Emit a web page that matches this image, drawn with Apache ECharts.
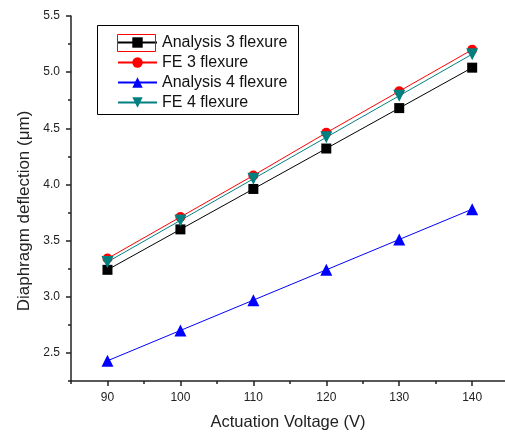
<!DOCTYPE html>
<html>
<head>
<meta charset="utf-8">
<script src="https://cdn.jsdelivr.net/npm/echarts@6/dist/echarts.min.js"></script>
<style>
html, body { margin: 0; padding: 0; background: #fff; }
#chart { width: 505px; height: 436px; }
</style>
</head>
<body>
<div id="chart"></div>
<script>
var voltage = [90, 100, 110, 120, 130, 140];
var analysis3 = [3.24, 3.60, 3.96, 4.32, 4.68, 5.04];
var fe3 = [3.34, 3.71, 4.08, 4.46, 4.83, 5.20];
var analysis4 = [2.43, 2.70, 2.97, 3.24, 3.51, 3.78];
var fe4 = [3.31, 3.68, 4.05, 4.42, 4.79, 5.16];

var xMajor = [90, 100, 110, 120, 130, 140];
var xMinor = [85, 95, 105, 115, 125, 135];
var yMajor = [2.5, 3.0, 3.5, 4.0, 4.5, 5.0, 5.5];
var yMinor = [2.25, 2.75, 3.25, 3.75, 4.25, 4.75, 5.25];

var font = 'Arial, "Liberation Sans", sans-serif';
var axisColor = '#222';

function pairs(ys) {
    return ys.map(function (y, i) { return [voltage[i], y]; });
}

var chart = echarts.init(document.getElementById('chart'));

chart.setOption({
    animation: false,
    grid: { left: 71, top: 16, bottom: 55, right: 0 },
    xAxis: [{
        type: 'value', min: 85, max: 144.5,
        name: 'Actuation Voltage (V)', nameLocation: 'middle', nameGap: 33,
        nameTextStyle: { fontFamily: font, fontSize: 16.5, color: axisColor },
        axisLine: { lineStyle: { color: axisColor, width: 1.5 } },
        axisTick: { customValues: xMajor, length: 5, lineStyle: { color: axisColor, width: 1.5 } },
        axisLabel: { customValues: xMajor, margin: 11, fontFamily: font, fontSize: 12, color: axisColor },
        splitLine: { show: false }
    }, {
        type: 'value', min: 85, max: 144.5, position: 'bottom',
        axisLine: { show: false },
        axisTick: { customValues: xMinor, length: 3, lineStyle: { color: axisColor, width: 1.5 } },
        axisLabel: { show: false },
        splitLine: { show: false }
    }],
    yAxis: [{
        type: 'value', min: 2.25, max: 5.5,
        name: 'Diaphragm deflection (μm)', nameLocation: 'middle', nameGap: 37,
        nameTextStyle: { fontFamily: font, fontSize: 17, color: axisColor, padding: [0, 25, 0, 0] },
        axisLine: { show: true, lineStyle: { color: axisColor, width: 1.5 } },
        axisTick: { show: true, customValues: yMajor, length: 5, lineStyle: { color: axisColor, width: 1.5 } },
        axisLabel: {
            customValues: yMajor, margin: 11, fontFamily: font, fontSize: 12, color: axisColor,
            formatter: function (v) { return v.toFixed(1); }
        },
        splitLine: { show: false }
    }, {
        type: 'value', min: 2.25, max: 5.5, position: 'left',
        axisLine: { show: false },
        axisTick: { show: true, customValues: yMinor, length: 3, lineStyle: { color: axisColor, width: 1.5 } },
        axisLabel: { show: false },
        splitLine: { show: false }
    }],
    legend: {
        orient: 'vertical', left: 117, top: 34, padding: 0,
        itemWidth: 39, itemHeight: 13, itemGap: 3,
        textStyle: { fontFamily: font, fontSize: 16, lineHeight: 17, color: '#111' },
        data: ['Analysis 3 flexure', 'FE 3 flexure', 'Analysis 4 flexure', 'FE 4 flexure']
    },
    graphic: [{
        type: 'rect', shape: { x: 97.5, y: 25.5, width: 201, height: 89 },
        style: { fill: 'none', stroke: '#000', lineWidth: 1 }, z: 10
    }, {
        type: 'rect', shape: { x: 117.5, y: 34.5, width: 38, height: 17 },
        style: { fill: 'none', stroke: '#ff0000', lineWidth: 1 }, z: 10
    }],
    series: [{
        name: 'Analysis 3 flexure', type: 'line', data: pairs(analysis3),
        symbol: 'rect', symbolSize: 10, color: '#000',
        lineStyle: { width: 1, color: '#000' }, itemStyle: { color: '#000' }
    }, {
        name: 'FE 3 flexure', type: 'line', data: pairs(fe3),
        symbol: 'circle', symbolSize: 10, color: '#ff0000',
        lineStyle: { width: 1, color: '#ff0000' }, itemStyle: { color: '#ff0000' }
    }, {
        name: 'Analysis 4 flexure', type: 'line', data: pairs(analysis4),
        symbol: 'triangle', symbolSize: 12, color: '#0000ff',
        lineStyle: { width: 1, color: '#0000ff' }, itemStyle: { color: '#0000ff' }
    }, {
        name: 'FE 4 flexure', type: 'line', data: pairs(fe4),
        symbol: 'triangle', symbolRotate: 180, symbolSize: 12, color: '#008080',
        lineStyle: { width: 1, color: '#008080' }, itemStyle: { color: '#008080' }
    }]
});
</script>
</body>
</html>
